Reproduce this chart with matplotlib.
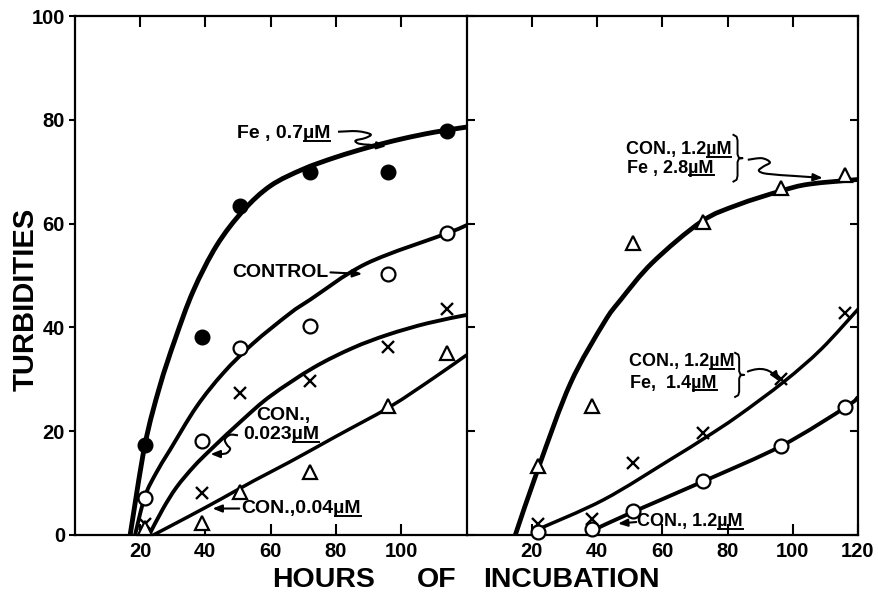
import matplotlib
matplotlib.use("Agg")
import matplotlib.pyplot as plt
from matplotlib import font_manager
from matplotlib.lines import Line2D
from matplotlib.path import Path
from matplotlib.patches import PathPatch

_names = {f.name for f in font_manager.fontManager.ttflist}
FONT = "Liberation Sans" if "Liberation Sans" in _names else "DejaVu Sans"
plt.rcParams["font.family"] = [FONT, "DejaVu Sans"]

# ---------------- data ----------------
# Left panel: measured turbidities
left_hours = [21.5, 39, 50.5, 72, 96, 114]
left_fe_07 = [17.3, 38.1, 63.3, 70.0, 70.0, 77.9]
left_control = [7.2, 18.2, 36.0, 40.3, 50.2, 58.2]
left_con_0023 = [2.1, 8.0, 27.3, 29.7, 36.3, 43.5]
left_con_004 = [1.4, 2.4, 8.3, 12.2, 24.9, 35.0]

# Left panel: hand-drawn curves
curve_fe07_x = [17, 21.5, 26, 30.7, 36.3, 43.5, 51.6, 60, 70, 80, 90, 100, 110, 120]
curve_fe07_y = [0, 17.3, 28.5, 37.6, 47.0, 55.8, 62.5, 67.3, 70.5, 72.8, 74.7, 76.3, 77.6, 78.6]
curve_control_x = [18.5, 21.5, 25, 29.2, 37.3, 45.5, 54.6, 65.9, 72, 89.3, 114.3, 120]
curve_control_y = [0, 7.4, 12.0, 16.4, 24.7, 31.2, 36.9, 42.7, 45.3, 52.3, 58.2, 59.7]
curve_con0023_x = [22.8, 27, 31.2, 36.5, 41.9, 51.6, 60, 73, 85, 95.9, 108, 120]
curve_con0023_y = [0, 5.0, 9.2, 13.2, 16.6, 22.3, 26.8, 32.2, 36.0, 38.6, 40.8, 42.4]
curve_con004_x = [24.1, 35, 45, 55, 65.9, 80, 96.5, 110, 120]
curve_con004_y = [0, 3.6, 7.0, 10.5, 14.1, 19.0, 24.7, 30.3, 34.7]

# Right panel: measured turbidities
right_hours = [22, 38.5, 51, 72.5, 96.5, 116]
right_con12_fe28 = [13.3, 24.9, 56.2, 60.4, 66.8, 69.4]
right_con12_fe14 = [2.1, 3.0, 13.9, 19.6, 30.0, 42.7]
right_con12 = [0.5, 1.1, 4.7, 10.4, 17.2, 24.7]

# Right panel: hand-drawn curves
curve_fe28_x = [14.9, 22.2, 31.8, 42, 47.2, 57, 72, 83.1, 96.4, 105, 120]
curve_fe28_y = [0, 13.3, 29.2, 40.8, 45.3, 52.5, 60.4, 63.6, 66.3, 67.6, 68.5]
curve_fe14_x = [21.5, 42, 62.6, 72.8, 83.1, 97.4, 108.7, 120]
curve_fe14_y = [1.0, 6.8, 14.6, 18.6, 22.9, 29.6, 35.8, 43.5]
curve_con12_x = [39, 50.8, 72.8, 96.6, 116.4, 120]
curve_con12_y = [1.0, 4.4, 10.4, 17.2, 24.7, 26.6]

x_ticks_left = [20, 40, 60, 80, 100]
x_ticks_right = [20, 40, 60, 80, 100, 120]
y_ticks = [0, 20, 40, 60, 80, 100]

# ---------------- figure ----------------
fig = plt.figure(figsize=(8.79, 5.98), dpi=100)
L, M, R, B, T = 74.6 / 879, 466.7 / 879, 858 / 879, 63 / 598, 582 / 598
axL = fig.add_axes([L, B, M - L, T - B])
axR = fig.add_axes([M, B, R - M, T - B])

for ax in (axL, axR):
    ax.set_xlim(0, 120)
    ax.set_ylim(0, 100)
    for s in ax.spines.values():
        s.set_linewidth(1.6)
axL.spines["right"].set_visible(False)

axL.set_xticks(x_ticks_left, labels=[str(v) for v in x_ticks_left])
axR.set_xticks(x_ticks_right, labels=[str(v) for v in x_ticks_right])
axL.set_yticks(y_ticks, labels=[str(v) for v in y_ticks])
axR.set_yticks(y_ticks)
axL.tick_params(axis="x", direction="in", length=8, width=1.5, top=True, pad=5)
axR.tick_params(axis="x", direction="in", length=8, width=1.5, top=True, pad=5)
axL.tick_params(axis="y", direction="out", length=4, width=1.5, pad=3)
axR.tick_params(axis="y", direction="in", length=6, width=1.5, left=True, right=True,
                labelleft=False)
for ax in (axL, axR):
    for lab in ax.get_xticklabels() + ax.get_yticklabels():
        lab.set_fontweight("bold")
        lab.set_fontsize(14.5)


def smooth_path(xs, ys):
    """Bezier path (Catmull-Rom tangents) through the read-off points."""
    pts = list(zip(xs, ys))
    n = len(pts)
    verts = [pts[0]]
    codes = [Path.MOVETO]
    for i in range(n - 1):
        p0 = pts[i - 1] if i > 0 else pts[i]
        p1, p2 = pts[i], pts[i + 1]
        p3 = pts[i + 2] if i + 2 < n else pts[i + 1]
        c1 = (p1[0] + (p2[0] - p0[0]) / 6, p1[1] + (p2[1] - p0[1]) / 6)
        c2 = (p2[0] - (p3[0] - p1[0]) / 6, p2[1] - (p3[1] - p1[1]) / 6)
        verts += [c1, c2, p2]
        codes += [Path.CURVE4] * 3
    return Path(verts, codes)


def curve(ax, xs, ys, lw, clip=True, zorder=2):
    patch = PathPatch(smooth_path(xs, ys), fill=False, edgecolor="black", lw=lw,
                      capstyle="butt", joinstyle="round", zorder=zorder)
    patch.set_clip_on(clip)
    ax.add_patch(patch)


curve(axL, curve_fe07_x, curve_fe07_y, 3.5)
curve(axL, curve_control_x, curve_control_y, 2.8)
curve(axL, curve_con0023_x, curve_con0023_y, 2.8)
curve(axL, curve_con004_x, curve_con004_y, 2.5)
curve(axR, curve_fe28_x, curve_fe28_y, 3.4)
curve(axR, curve_fe14_x, curve_fe14_y, 2.5)
curve(axR, curve_con12_x, curve_con12_y, 2.8)

# markers
filled = dict(marker="o", ms=10.5, mfc="black", mec="black", ls="none", clip_on=False, zorder=4)
opencirc = dict(marker="o", ms=10, mfc="white", mec="black", mew=1.6, ls="none", clip_on=False, zorder=4)
cross = dict(marker="x", ms=8, mec="black", mew=1.7, ls="none", clip_on=False, zorder=4)
tri = dict(marker="^", ms=10.5, mfc="white", mec="black", mew=1.6, ls="none", clip_on=False, zorder=4)

axL.plot(left_hours, left_fe_07, **filled)
axL.plot(left_hours, left_control, **opencirc)
axL.plot(left_hours, left_con_0023, **cross)
axL.plot(left_hours, left_con_004, **tri)
axR.plot(right_hours, right_con12_fe28, **tri)
axR.plot(right_hours, right_con12_fe14, **cross)
axR.plot(right_hours, right_con12, **opencirc)

# ---------------- annotations ----------------
underlines = []


def label(ax, x, y, prefix, size, ha="left"):
    t = ax.text(x, y, prefix + "µM", ha=ha, va="center", fontsize=size,
                fontweight="bold", zorder=5)
    underlines.append((t, prefix))
    return t


ARROW = dict(arrowstyle="-|>,head_length=0.55,head_width=0.22", color="black",
             lw=1.5, shrinkA=0, shrinkB=0)


def squiggle(ax, xs, ys, tip):
    curve(ax, xs, ys, 1.5, clip=False, zorder=5)
    ax.annotate("", xy=tip, xytext=(xs[-1], ys[-1]), arrowprops=ARROW)


def arrow(ax, start, tip, rad=0.0):
    props = dict(ARROW)
    props["connectionstyle"] = f"arc3,rad={rad}"
    ax.annotate("", xy=tip, xytext=start, arrowprops=props)


def brace(ax, xb, yt, yb, w):
    H = yt - yb
    ym = (yt + yb) / 2
    xs = [xb, xb + 0.35 * w, xb + 0.45 * w, xb + 0.45 * w, xb + 0.6 * w, xb + w,
          xb + 0.6 * w, xb + 0.45 * w, xb + 0.45 * w, xb + 0.35 * w, xb]
    ys = [yt, yt - 0.04 * H, yt - 0.12 * H, ym + 0.08 * H, ym + 0.01 * H, ym,
          ym - 0.01 * H, ym - 0.08 * H, yb + 0.12 * H, yb + 0.04 * H, yb]
    ax.plot(xs, ys, color="black", lw=1.4, solid_joinstyle="round", zorder=5)


# left panel labels
label(axL, 49.6, 77.3, "Fe , 0.7", 14)
squiggle(axL, [80.6, 86.5, 90.6, 89.0, 86.0, 87.0, 90.0],
         [77.7, 77.8, 77.2, 76.5, 76.0, 75.4, 75.2], (95.4, 74.9))
axL.text(77.8, 50.6, "CONTROL", ha="right", va="center", fontsize=14, fontweight="bold")
arrow(axL, (78.3, 50.6), (88.0, 50.3))
axL.text(64, 23.1, "CON.,", ha="center", va="center", fontsize=14, fontweight="bold")
label(axL, 51.6, 19.3, "0.023", 14)
squiggle(axL, [50.0, 47.6, 46.0, 46.6, 47.6, 46.6, 45.2],
         [19.2, 19.3, 18.4, 17.4, 16.6, 15.8, 15.6], (41.6, 15.6))
label(axL, 51.1, 5.1, "CON.,0.04", 14)
arrow(axL, (50.4, 5.1), (42.2, 5.1))

# right panel labels
label(axR, 48.7, 74.2, "CON., 1.2", 13)
label(axR, 49.2, 70.7, "Fe , 2.8", 13)
brace(axR, 81.8, 77.1, 68.1, 2.8)
squiggle(axR, [86.2, 90.5, 93.0, 91.0, 89.6, 92.0, 100.0],
         [72.3, 72.6, 71.8, 71.0, 70.2, 69.6, 69.2], (109.2, 68.8))
label(axR, 49.7, 33.4, "CON., 1.2", 13)
label(axR, 50.2, 29.2, "Fe,  1.4", 13)
brace(axR, 82.3, 35.1, 26.6, 2.8)
arrow(axR, (86.2, 31.5), (95.9, 29.6), rad=-0.4)
label(axR, 52.3, 2.6, "CON., 1.2", 13)
arrow(axR, (52.0, 2.5), (46.4, 2.2))

# axis titles
fig.text(0.0292, 0.50, "TURBIDITIES", rotation=90, ha="center", va="center",
         fontsize=21, fontweight="bold")
for word, px in (("HOURS", 324), ("OF", 437), ("INCUBATION", 571)):
    fig.text(px / 879, 0.030, word, ha="center", va="center", fontsize=20.5,
             fontweight="bold")

# underline the µM units
fig.canvas.draw()
rend = fig.canvas.get_renderer()
inv = fig.transFigure.inverted()
for t, prefix in underlines:
    bb = t.get_window_extent(rend)
    tmp = fig.text(0, 0, prefix, fontsize=t.get_fontsize(), fontweight="bold")
    w = tmp.get_window_extent(rend).width
    tmp.remove()
    x0, x1, yy = bb.x0 + w + 1, bb.x1, bb.y0 + 1.5
    (fx0, fy), (fx1, _) = inv.transform([(x0, yy), (x1, yy)])
    fig.add_artist(Line2D([fx0, fx1], [fy, fy], transform=fig.transFigure,
                          color="black", lw=1.4))

fig.savefig("out.png", dpi=100)
